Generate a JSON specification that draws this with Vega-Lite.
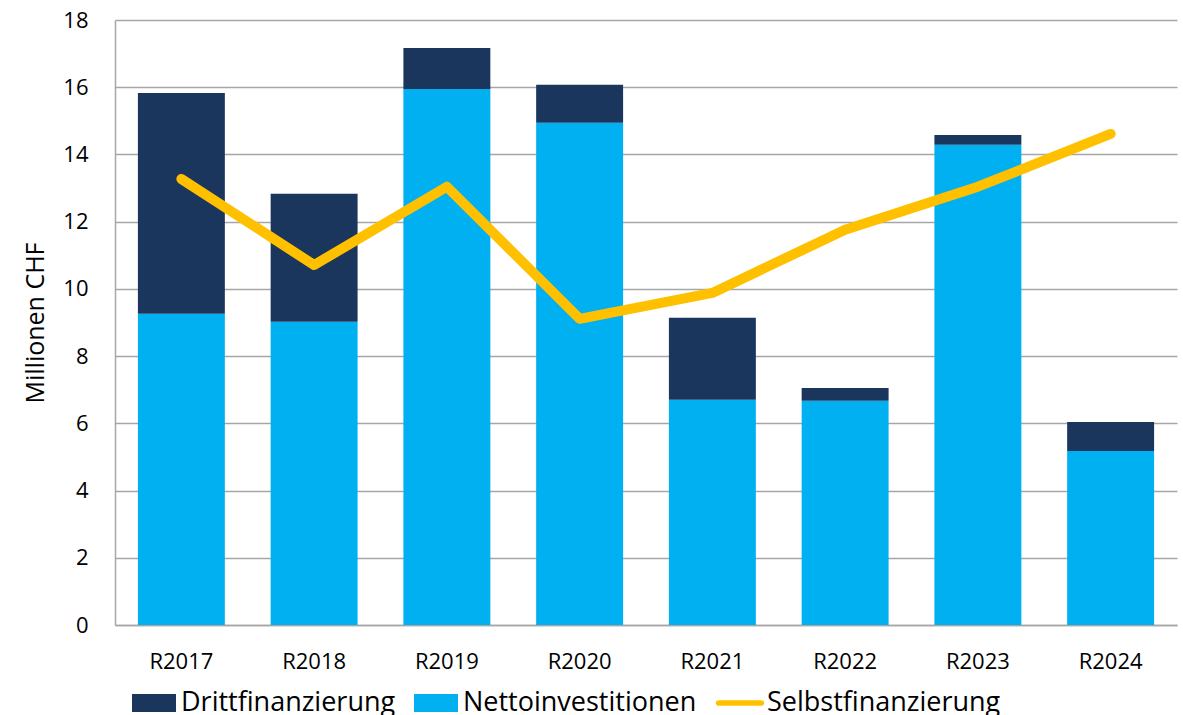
{
  "$schema": "https://vega.github.io/schema/vega-lite/v6.json",
  "width": 1062,
  "height": 605,
  "autosize": {"type": "none"},
  "padding": {"left": 115, "top": 20, "right": 6, "bottom": 90},
  "background": "white",
  "config": {
    "font": "Open Sans",
    "view": {"stroke": null},
    "axis": {"labelFont": "Open Sans", "titleFont": "Open Sans", "labelColor": "#000000", "titleColor": "#000000"}
  },
  "datasets": {
    "bars": [
      {"year": "R2017", "series": "Nettoinvestitionen", "value": 9.26},
      {"year": "R2017", "series": "Drittfinanzierung", "value": 6.57},
      {"year": "R2018", "series": "Nettoinvestitionen", "value": 9.02},
      {"year": "R2018", "series": "Drittfinanzierung", "value": 3.81},
      {"year": "R2019", "series": "Nettoinvestitionen", "value": 15.95},
      {"year": "R2019", "series": "Drittfinanzierung", "value": 1.22},
      {"year": "R2020", "series": "Nettoinvestitionen", "value": 14.94},
      {"year": "R2020", "series": "Drittfinanzierung", "value": 1.13},
      {"year": "R2021", "series": "Nettoinvestitionen", "value": 6.70},
      {"year": "R2021", "series": "Drittfinanzierung", "value": 2.44},
      {"year": "R2022", "series": "Nettoinvestitionen", "value": 6.67},
      {"year": "R2022", "series": "Drittfinanzierung", "value": 0.38},
      {"year": "R2023", "series": "Nettoinvestitionen", "value": 14.29},
      {"year": "R2023", "series": "Drittfinanzierung", "value": 0.29},
      {"year": "R2024", "series": "Nettoinvestitionen", "value": 5.18},
      {"year": "R2024", "series": "Drittfinanzierung", "value": 0.86}
    ],
    "line": [
      {"year": "R2017", "series": "Selbstfinanzierung", "value": 13.27},
      {"year": "R2018", "series": "Selbstfinanzierung", "value": 10.71},
      {"year": "R2019", "series": "Selbstfinanzierung", "value": 13.04},
      {"year": "R2020", "series": "Selbstfinanzierung", "value": 9.11},
      {"year": "R2021", "series": "Selbstfinanzierung", "value": 9.88},
      {"year": "R2022", "series": "Selbstfinanzierung", "value": 11.76},
      {"year": "R2023", "series": "Selbstfinanzierung", "value": 13.04},
      {"year": "R2024", "series": "Selbstfinanzierung", "value": 14.61}
    ]
  },
  "encoding": {
    "x": {
      "field": "year", "type": "nominal",
      "scale": {"paddingInner": 0.345, "paddingOuter": 0.1725},
      "axis": {"title": null, "labelAngle": 0, "labelFontSize": 22, "labelPadding": 26, "ticks": false, "domainColor": "#A6A6A6", "domainWidth": 1.5, "grid": false}
    },
    "y": {
      "field": "value", "type": "quantitative",
      "scale": {"domain": [0, 18]},
      "axis": {"title": "Millionen CHF", "titleFontSize": 25, "titleFontWeight": "normal", "titlePadding": 14, "values": [0,2,4,6,8,10,12,14,16,18], "labelFontSize": 22, "labelPadding": 27, "ticks": false, "domainColor": "#A6A6A6", "domainWidth": 1.5, "gridColor": "#A6A6A6", "gridWidth": 1.5}
    },
    "color": {
      "field": "series", "type": "nominal",
      "scale": {"domain": ["Drittfinanzierung", "Nettoinvestitionen", "Selbstfinanzierung"], "range": ["#1B365D", "#00B0F0", "#FFC000"]},
      "legend": {
        "title": null, "orient": "none", "direction": "horizontal",
        "legendX": 17, "legendY": 661,
        "labelFontSize": 27, "labelFont": "Open Sans", "labelColor": "#000000",
        "symbolSize": 1936, "labelOffset": 5, "columnPadding": 18, "labelLimit": 500,
        "symbolType": "square",
        "encode": {
          "labels": {
            "update": {
              "text": {"signal": "datum.label === 'Nettoinvestitionen' ? datum.label + '\u00a0\u00a0\u00a0\u00a0\u00a0\u00a0\u00a0\u00a0\u00a0\u00a0' : datum.label"}
            }
          },
          "symbols": {
            "update": {
              "shape": {"signal": "datum.value === 'Selbstfinanzierung' ? 'M-0.97,-0.13H0.97A0.13,0.13 0 0 1 0.97,0.13H-0.97A0.13,0.13 0 0 1 -0.97,-0.13Z' : 'M-1,-0.41H1V0.41H-1Z'"},
              "fill": {"signal": "scale('color', datum.value)"},
              "strokeWidth": {"value": 0},
              "opacity": {"value": 1},
              "fillOpacity": {"value": 1}
            }
          }
        }
      }
    }
  },
  "layer": [
    {
      "data": {"name": "bars"},
      "mark": {"type": "bar"},
      "encoding": {
        "order": {"field": "series", "sort": "descending"}
      }
    },
    {
      "data": {"name": "line"},
      "mark": {"type": "line", "strokeWidth": 10, "strokeCap": "round", "strokeJoin": "round"}
    }
  ]
}
